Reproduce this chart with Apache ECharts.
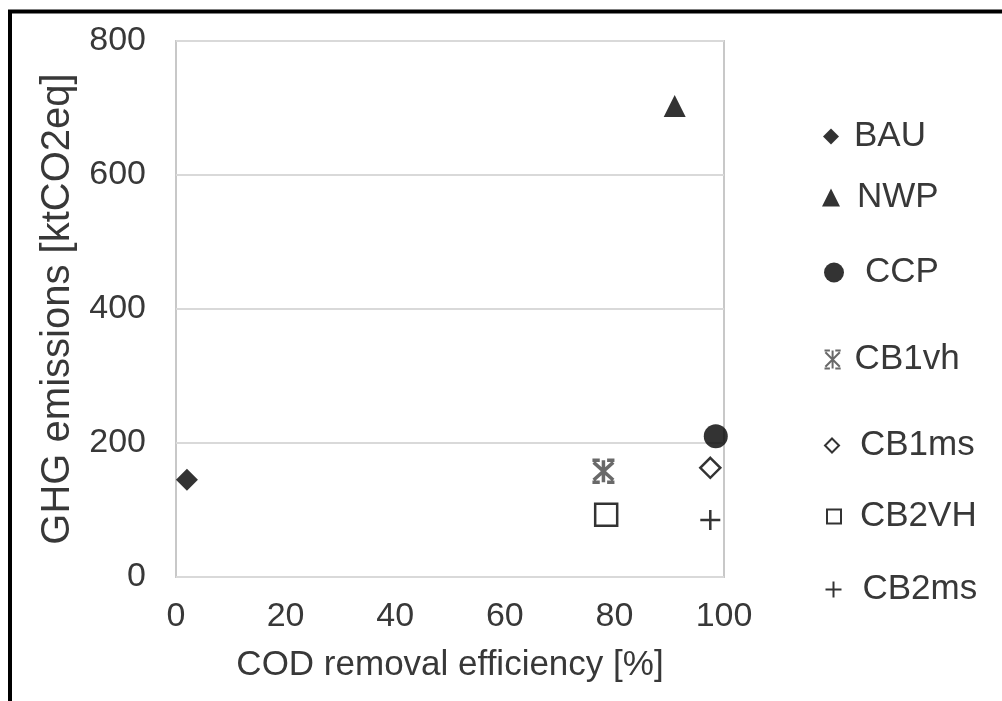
<!DOCTYPE html>
<html>
<head>
<meta charset="utf-8">
<script src="https://cdn.jsdelivr.net/npm/echarts@6/dist/echarts.min.js"></script>
<style>
  html, body { margin: 0; padding: 0; background: #fff; }
  #main { width: 1002px; height: 701px; }
</style>
</head>
<body>
<div id="main"></div>
<script>
// 情景名称与数值 [COD去除率 %, GHG排放 ktCO2eq]
var names = ['BAU', 'NWP', 'CCP', 'CB1vh', 'CB1ms', 'CB2VH', 'CB2ms'];
var codRemoval = [2, 91, 98.5, 78, 97.5, 78.5, 97.5];
var ghgEmission = [145, 703, 210, 158, 163, 93, 85];

var xTicks = [0, 20, 40, 60, 80, 100];
var yTicks = [0, 200, 400, 600, 800];

// 符号样式
var plusPath = 'path://M0,5L10,5M5,0L5,10';
var starPath = 'path://M1,1L9,9M9,1L1,9M5,0L5,10M0.5,0L3.5,0M6.5,0L9.5,0M0.5,10L3.5,10M6.5,10L9.5,10';
var styles = [
  { symbol: 'diamond', size: 22, item: { color: '#000' } },
  { symbol: 'triangle', size: 22, item: { color: '#000' } },
  { symbol: 'circle', size: 24, item: { color: '#000' } },
  { symbol: starPath, size: 22, item: { color: 'none', borderColor: '#444', borderWidth: 3.5 } },
  { symbol: 'diamond', size: 20, item: { color: '#fff', borderColor: '#000', borderWidth: 2.5 } },
  { symbol: 'rect', size: 22, item: { color: '#fff', borderColor: '#000', borderWidth: 2.5 } },
  { symbol: plusPath, size: 20, item: { color: 'none', borderColor: '#000', borderWidth: 2.5 } }
];

// 图例位置 (图标中心x, 文字中心y, 图标大小, 文字左边距)
var legendPos = [
  [826, 132, 16, 10],
  [826, 193, 18, 12],
  [829, 268, 20, 16],
  [826, 355, 18, 8],
  [826, 441, 14, 16],
  [828, 512, 14, 14],
  [826, 585, 16, 16]
];

var textColor = '#383838';
var font = 'Liberation Sans, Arial, sans-serif';

var series = names.map(function (n, i) {
  return {
    name: n,
    type: 'scatter',
    symbol: styles[i].symbol,
    symbolSize: styles[i].size,
    itemStyle: styles[i].item,
    data: [[codRemoval[i], ghgEmission[i]]]
  };
});

var legends = names.map(function (n, i) {
  var p = legendPos[i];
  return {
    data: [n],
    orient: 'vertical',
    left: p[0] - p[2] / 2,
    top: p[1] - 18,
    itemWidth: p[2],
    itemHeight: p[2],
    selectedMode: false,
    textStyle: {
      color: textColor,
      fontSize: 35,
      fontFamily: font,
      padding: [0, 0, 0, p[3]]
    }
  };
});

var myChart = echarts.init(document.getElementById('main'));

var option = {
  animation: false,
  backgroundColor: '#fff',
  graphic: [{
    type: 'polyline',
    shape: { points: [[10, 701], [10, 11.5], [1002, 11.5]] },
    style: { stroke: '#000', lineWidth: 4, fill: null }
  }],
  legend: legends,
  grid: {
    left: 176,
    right: 278,
    top: 41,
    bottom: 124,
    show: true,
    borderColor: '#c8c8c8',
    borderWidth: 2
  },
  xAxis: {
    type: 'value',
    min: xTicks[0],
    max: xTicks[xTicks.length - 1],
    interval: 20,
    name: 'COD removal efficiency [%]',
    nameLocation: 'middle',
    nameGap: 71,
    nameTextStyle: { color: textColor, fontSize: 35, fontFamily: font },
    axisLine: { show: false },
    axisTick: { show: false },
    splitLine: { show: false },
    axisLabel: { color: textColor, fontSize: 34, fontFamily: font, margin: 23 }
  },
  yAxis: {
    type: 'value',
    min: yTicks[0],
    max: yTicks[yTicks.length - 1],
    interval: 200,
    name: 'GHG emissions [ktCO2eq]',
    nameLocation: 'middle',
    nameGap: 83,
    nameTextStyle: { color: textColor, fontSize: 40, fontFamily: font },
    axisLine: { show: false },
    axisTick: { show: false },
    splitLine: { show: true, lineStyle: { color: '#d9d9d9', width: 2 } },
    axisLabel: { color: textColor, fontSize: 34, fontFamily: font, margin: 30 }
  },
  series: series
};

myChart.setOption(option);
</script>
</body>
</html>
